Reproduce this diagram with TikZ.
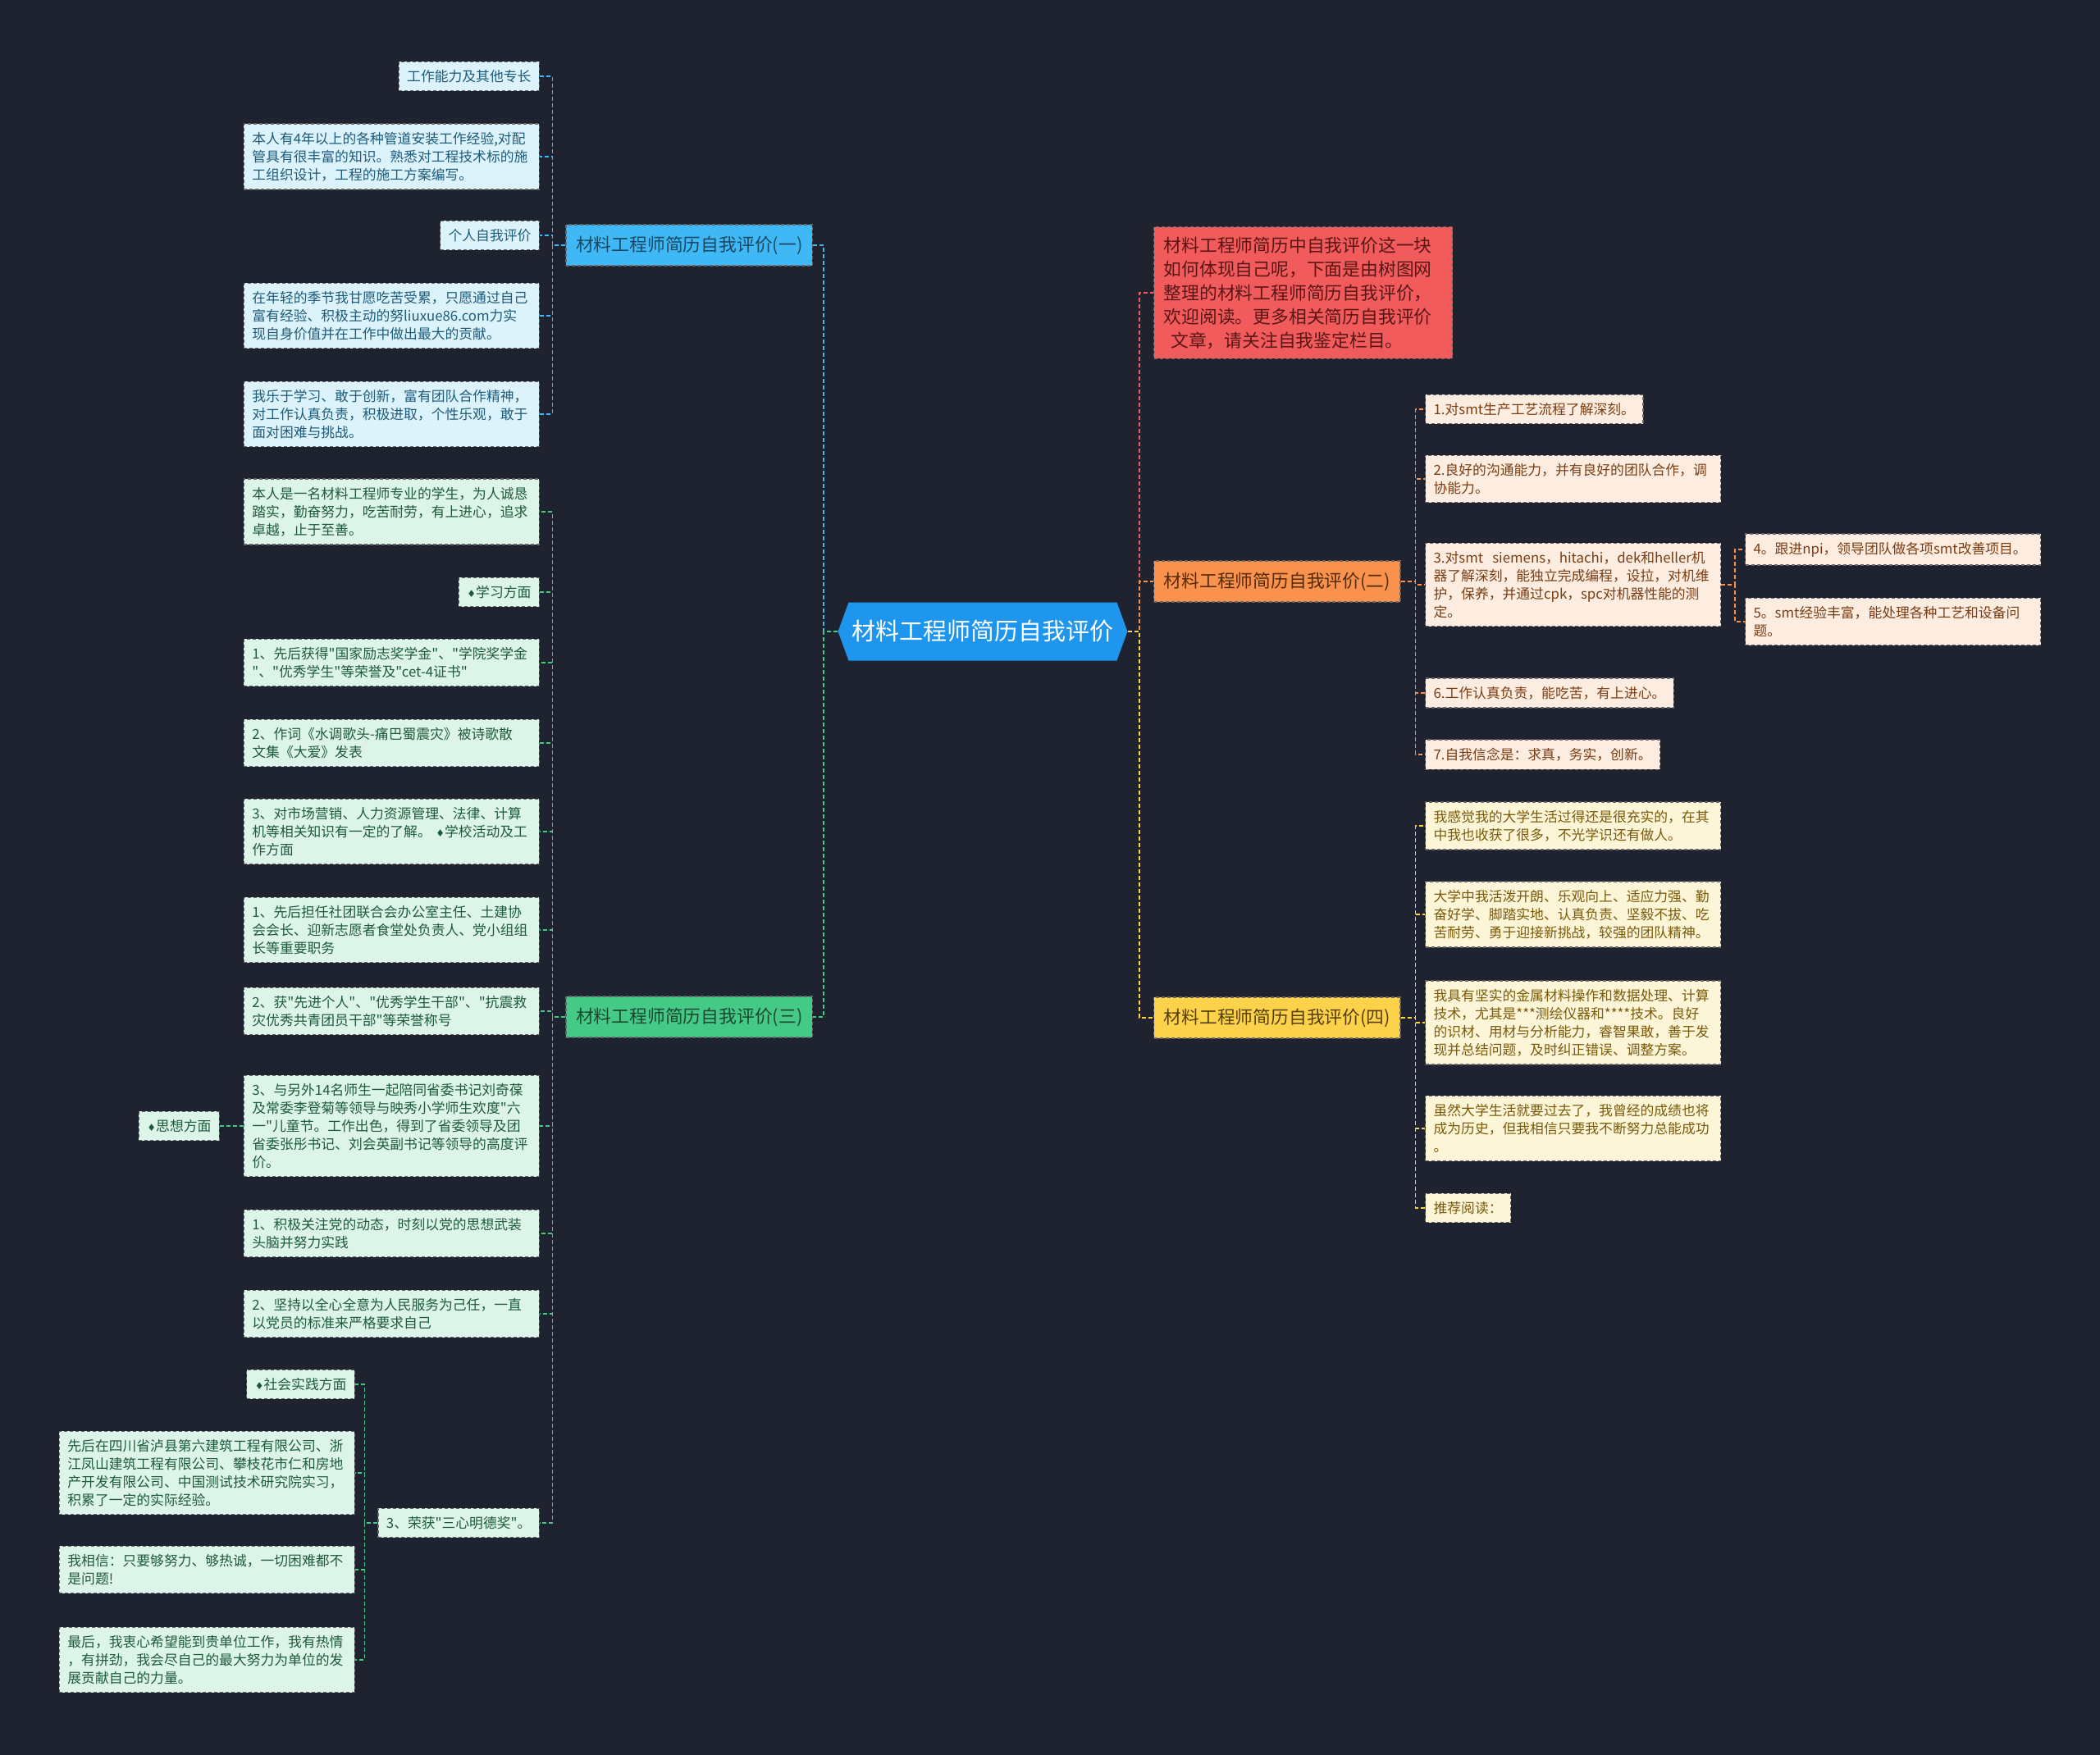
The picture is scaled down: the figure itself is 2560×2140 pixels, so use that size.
\documentclass[tikz,border=0pt]{standalone}
\usepackage{fontspec}
\setmainfont{Noto Sans CJK SC}
\newfontfamily\cjk{Noto Sans CJK SC}
\newfontfamily\symfont{DejaVu Sans}
\usetikzlibrary{shapes.symbols}
\definecolor{bg}{HTML}{1F2330}
\definecolor{rootc}{HTML}{1E96EE}
\definecolor{bluec}{HTML}{3FB8F5}
\definecolor{bluel}{HTML}{DDF3FC}
\definecolor{bluet}{HTML}{1D5B7A}
\definecolor{greenc}{HTML}{45C987}
\definecolor{greenl}{HTML}{DDF5E8}
\definecolor{greent}{HTML}{1E5A3C}
\definecolor{redc}{HTML}{F25B5B}
\definecolor{redt}{HTML}{5A1616}
\definecolor{orangec}{HTML}{F8924C}
\definecolor{orangel}{HTML}{FDEDE1}
\definecolor{oranget}{HTML}{7A3D12}
\definecolor{yellowc}{HTML}{FDD24B}
\definecolor{yellowl}{HTML}{FDF5D8}
\definecolor{yellowt}{HTML}{7A5A0A}
\newcommand{\dia}{{\symfont\fontsize{6pt}{6pt}\selectfont ♦}}
\begin{document}
\begin{tikzpicture}[x=0.5pt,y=-0.5pt,
  box/.style={draw=black!60,dash pattern=on 2pt off 1.5pt,line width=0.6pt,inner xsep=5pt,inner ysep=5pt,align=left,font=\cjk\fontsize{8.4pt}{11pt}\selectfont},
  wide/.style={text width=170pt},
  branch/.style={box,inner xsep=6pt,minimum height=25pt,font=\cjk\fontsize{10.9pt}{13pt}\selectfont},
  bleaf/.style={box,fill=bluel,text=bluet},
  gleaf/.style={box,fill=greenl,text=greent},
  oleaf/.style={box,fill=orangel,text=oranget},
  yleaf/.style={box,fill=yellowl,text=yellowt},
  link/.style={dash pattern=on 2.5pt off 1.5pt,line width=0.8pt}]
\useasboundingbox (0,0) rectangle (2560,2140);
\fill[bg] (0,0) rectangle (2560,2140);

\node[signal,signal to=east and west,signal pointer angle=140,fill=rootc,text=white,minimum height=35.5pt,inner xsep=2pt,font=\cjk\fontsize{14.5pt}{16pt}\selectfont] (root) at (1198,770) {材料工程师简历自我评价};

\node[branch,fill=bluec,text=bluet!80!black,anchor=east] (b1) at (991,299) {材料工程师简历自我评价(一)};
\node[branch,fill=greenc,text=greent!80!black,anchor=east] (b3) at (991,1240) {材料工程师简历自我评价(三)};
\node[box,fill=redc,text=redt,text width=170pt,inner xsep=6pt,inner ysep=6pt,font=\cjk\fontsize{10.9pt}{14.5pt}\selectfont,anchor=west] (intro) at (1406,357) {材料工程师简历中自我评价这一块\\如何体现自己呢，下面是由树图网\\整理的材料工程师简历自我评价，\\欢迎阅读。更多相关简历自我评价\\\hspace*{0.4em}文章，请关注自我鉴定栏目。};
\node[branch,fill=orangec,text=oranget!70!black,anchor=west] (b2) at (1406,709) {材料工程师简历自我评价(二)};
\node[branch,fill=yellowc,text=yellowt!70!black,anchor=west] (b4) at (1406,1241) {材料工程师简历自我评价(四)};

\node[bleaf,anchor=east] (a1) at (658,93) {工作能力及其他专长};
\node[bleaf,wide,anchor=east] (a2) at (658,191) {本人有4年以上的各种管道安装工作经验,对配\\管具有很丰富的知识。熟悉对工程技术标的施\\工组织设计，工程的施工方案编写。};
\node[bleaf,anchor=east] (a3) at (658,287) {个人自我评价};
\node[bleaf,wide,anchor=east] (a4) at (658,385) {在年轻的季节我甘愿吃苦受累，只愿通过自己\\富有经验、积极主动的努liuxue86.com力实\\现自身价值并在工作中做出最大的贡献。};
\node[bleaf,wide,anchor=east] (a5) at (658,505) {我乐于学习、敢于创新，富有团队合作精神，\\对工作认真负责，积极进取，个性乐观，敢于\\面对困难与挑战。};

\node[gleaf,wide,anchor=east] (c1) at (658,624) {本人是一名材料工程师专业的学生，为人诚恳\\踏实，勤奋努力，吃苦耐劳，有上进心，追求\\卓越，止于至善。};
\node[gleaf,anchor=east] (c2) at (658,722) {\dia 学习方面};
\node[gleaf,wide,anchor=east] (c3) at (658,808) {1、先后获得"国家励志奖学金"、"学院奖学金\\"、"优秀学生"等荣誉及"cet-4证书"};
\node[gleaf,wide,anchor=east] (c4) at (658,906) {2、作词《水调歌头-痛巴蜀震灾》被诗歌散\\文集《大爱》发表};
\node[gleaf,wide,anchor=east] (c5) at (658,1014) {3、对市场营销、人力资源管理、法律、计算\\机等相关知识有一定的了解。 \dia 学校活动及工\\作方面};
\node[gleaf,wide,anchor=east] (c6) at (658,1134) {1、先后担任社团联合会办公室主任、土建协\\会会长、迎新志愿者食堂处负责人、党小组组\\长等重要职务};
\node[gleaf,wide,anchor=east] (c7) at (658,1233) {2、获"先进个人"、"优秀学生干部"、"抗震救\\灾优秀共青团员干部"等荣誉称号};
\node[gleaf,wide,anchor=east] (c8) at (658,1373) {3、与另外14名师生一起陪同省委书记刘奇葆\\及常委李登菊等领导与映秀小学师生欢度"六\\一"儿童节。工作出色，得到了省委领导及团\\省委张彤书记、刘会英副书记等领导的高度评\\价。};
\node[gleaf,wide,anchor=east] (c9) at (658,1504) {1、积极关注党的动态，时刻以党的思想武装\\头脑并努力实践};
\node[gleaf,wide,anchor=east] (c10) at (658,1602) {2、坚持以全心全意为人民服务为己任，一直\\以党员的标准来严格要求自己};
\node[gleaf,anchor=east] (c11) at (658,1857) {3、荣获"三心明德奖"。};
\node[gleaf,anchor=east] (d1) at (268,1373) {\dia 思想方面};
\node[gleaf,anchor=east] (e1) at (433,1688) {\dia 社会实践方面};
\node[gleaf,wide,anchor=east] (e2) at (433,1796) {先后在四川省泸县第六建筑工程有限公司、浙\\江凤山建筑工程有限公司、攀枝花市仁和房地\\产开发有限公司、中国测试技术研究院实习，\\积累了一定的实际经验。};
\node[gleaf,wide,anchor=east] (e3) at (433,1914) {我相信：只要够努力、够热诚，一切困难都不\\是问题!};
\node[gleaf,wide,anchor=east] (e4) at (433,2024) {最后，我衷心希望能到贵单位工作，我有热情\\，有拼劲，我会尽自己的最大努力为单位的发\\展贡献自己的力量。};

\node[oleaf,anchor=west] (f1) at (1737,499) {1.对smt生产工艺流程了解深刻。};
\node[oleaf,wide,anchor=west] (f2) at (1737,584) {2.良好的沟通能力，并有良好的团队合作，调\\协能力。};
\node[oleaf,wide,anchor=west] (f3) at (1737,713) {3.对smt\ \ siemens，hitachi，dek和heller机\\器了解深刻，能独立完成编程，设拉，对机维\\护，保养，并通过cpk，spc对机器性能的测\\定。};
\node[oleaf,wide,anchor=west] (g1) at (2127,670) {4。跟进npi，领导团队做各项smt改善项目。};
\node[oleaf,wide,anchor=west] (g2) at (2127,758) {5。smt经验丰富，能处理各种工艺和设备问\\题。};
\node[oleaf,anchor=west] (f4) at (1737,845) {6.工作认真负责，能吃苦，有上进心。};
\node[oleaf,anchor=west] (f5) at (1737,920) {7.自我信念是：求真，务实，创新。};

\node[yleaf,wide,anchor=west] (h1) at (1737,1007) {我感觉我的大学生活过得还是很充实的，在其\\中我也收获了很多，不光学识还有做人。};
\node[yleaf,wide,anchor=west] (h2) at (1737,1115) {大学中我活泼开朗、乐观向上、适应力强、勤\\奋好学、脚踏实地、认真负责、坚毅不拔、吃\\苦耐劳、勇于迎接新挑战，较强的团队精神。};
\node[yleaf,wide,anchor=west] (h3) at (1737,1247) {我具有坚实的金属材料操作和数据处理、计算\\技术，尤其是***测绘仪器和****技术。良好\\的识材、用材与分析能力，睿智果敢，善于发\\现并总结问题，及时纠正错误、调整方案。};
\node[yleaf,wide,anchor=west] (h4) at (1737,1376) {虽然大学生活就要过去了，我曾经的成绩也将\\成为历史，但我相信只要我不断努力总能成功\\。};
\node[yleaf,anchor=west] (h5) at (1737,1473) {推荐阅读：};

\draw[link,bluec] (root.west) -- ++(-17,0) |- (b1.east);
\draw[link,greenc] (root.west) -- ++(-17,0) |- (b3.east);
\draw[link,redc] (root.east) -- ++(14,0) |- (intro.west);
\draw[link,orangec] (root.east) -- ++(14,0) |- (b2.west);
\draw[link,yellowc] (root.east) -- ++(14,0) |- (b4.west);

\draw[link,bluec] (b1.west) -- ++(-16,0) |- (a1.east);
\draw[link,bluec] (b1.west) -- ++(-16,0) |- (a2.east);
\draw[link,bluec] (b1.west) -- ++(-16,0) |- (a3.east);
\draw[link,bluec] (b1.west) -- ++(-16,0) |- (a4.east);
\draw[link,bluec] (b1.west) -- ++(-16,0) |- (a5.east);

\draw[link,greenc] (b3.west) -- ++(-16,0) |- (c1.east);
\draw[link,greenc] (b3.west) -- ++(-16,0) |- (c2.east);
\draw[link,greenc] (b3.west) -- ++(-16,0) |- (c3.east);
\draw[link,greenc] (b3.west) -- ++(-16,0) |- (c4.east);
\draw[link,greenc] (b3.west) -- ++(-16,0) |- (c5.east);
\draw[link,greenc] (b3.west) -- ++(-16,0) |- (c6.east);
\draw[link,greenc] (b3.west) -- ++(-16,0) |- (c7.east);
\draw[link,greenc] (b3.west) -- ++(-16,0) |- (c8.east);
\draw[link,greenc] (b3.west) -- ++(-16,0) |- (c9.east);
\draw[link,greenc] (b3.west) -- ++(-16,0) |- (c10.east);
\draw[link,greenc] (b3.west) -- ++(-16,0) |- (c11.east);
\draw[link,greenc] (c8.west) -- (d1.east);
\draw[link,greenc] (c11.west) -- ++(-16,0) |- (e1.east);
\draw[link,greenc] (c11.west) -- ++(-16,0) |- (e2.east);
\draw[link,greenc] (c11.west) -- ++(-16,0) |- (e3.east);
\draw[link,greenc] (c11.west) -- ++(-16,0) |- (e4.east);

\draw[link,orangec] (b2.east) -- ++(18,0) |- (f1.west);
\draw[link,orangec] (b2.east) -- ++(18,0) |- (f2.west);
\draw[link,orangec] (b2.east) -- ++(18,0) |- (f3.west);
\draw[link,orangec] (b2.east) -- ++(18,0) |- (f4.west);
\draw[link,orangec] (b2.east) -- ++(18,0) |- (f5.west);
\draw[link,orangec] (f3.east) -- ++(17,0) |- (g1.west);
\draw[link,orangec] (f3.east) -- ++(17,0) |- (g2.west);

\draw[link,yellowc] (b4.east) -- ++(18,0) |- (h1.west);
\draw[link,yellowc] (b4.east) -- ++(18,0) |- (h2.west);
\draw[link,yellowc] (b4.east) -- ++(18,0) |- (h3.west);
\draw[link,yellowc] (b4.east) -- ++(18,0) |- (h4.west);
\draw[link,yellowc] (b4.east) -- ++(18,0) |- (h5.west);
\end{tikzpicture}
\end{document}
